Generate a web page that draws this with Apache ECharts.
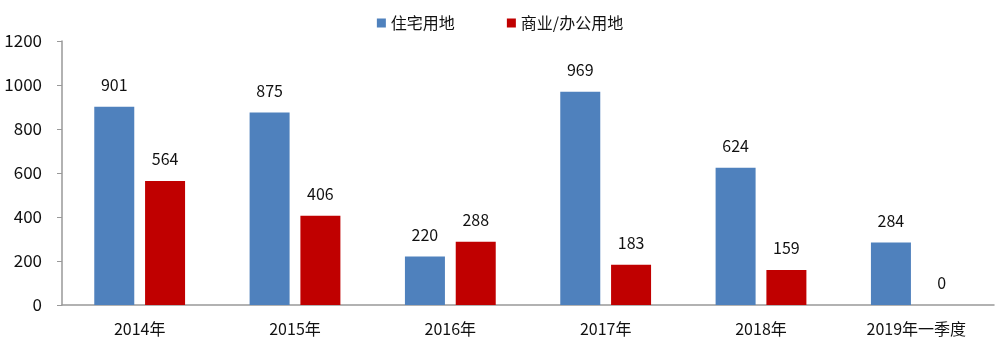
<!DOCTYPE html>
<html><head><meta charset="utf-8">
<script src="https://cdn.jsdelivr.net/npm/echarts@6/dist/echarts.min.js"></script>
<style>html,body{margin:0;padding:0;background:#fff}#c{width:1000px;height:347px}</style>
</head><body><div id="c"></div>
<script>
const categories = ['2014年','2015年','2016年','2017年','2018年','2019年一季度'];
const residential = [901, 875, 220, 969, 624, 284];
const commercial = [564, 406, 288, 183, 159, 0];
const seriesNames = ['住宅用地','商业/办公用地'];
const font = '"Noto Sans CJK SC", "Microsoft YaHei", sans-serif';
const chart = echarts.init(document.getElementById('c'));
const lbl = {show:true, position:'top', distance:14, color:'#111', fontSize:16, fontFamily:font};
chart.setOption({
  animation:false,
  textStyle:{fontFamily:font},
  legend:{top:10, left:'center', itemWidth:9, itemHeight:9, itemGap:52, icon:'rect',
    textStyle:{fontSize:16, color:'#111', fontFamily:font}, data:seriesNames},
  grid:{left:62, right:6, top:41, bottom:42},
  xAxis:{type:'category', data:categories,
    axisLine:{lineStyle:{color:'#999', width:1.5}}, axisTick:{show:false},
    axisLabel:{color:'#111', fontSize:16, margin:16, fontFamily:font}},
  yAxis:{type:'value', min:0, max:1200, interval:200,
    axisLine:{show:true, lineStyle:{color:'#999', width:1.5}},
    axisTick:{show:true, length:5, lineStyle:{color:'#999'}},
    splitLine:{show:false},
    axisLabel:{color:'#111', fontSize:17, margin:20, fontFamily:font, formatter:v=>String(v)}},
  series:[
    {name:seriesNames[0], type:'bar', data:residential, barWidth:40, barGap:'27%', itemStyle:{color:'#4F81BD'}, label:lbl},
    {name:seriesNames[1], type:'bar', data:commercial, barWidth:40, itemStyle:{color:'#C00000'}, label:lbl}
  ]
});
</script></body></html>
